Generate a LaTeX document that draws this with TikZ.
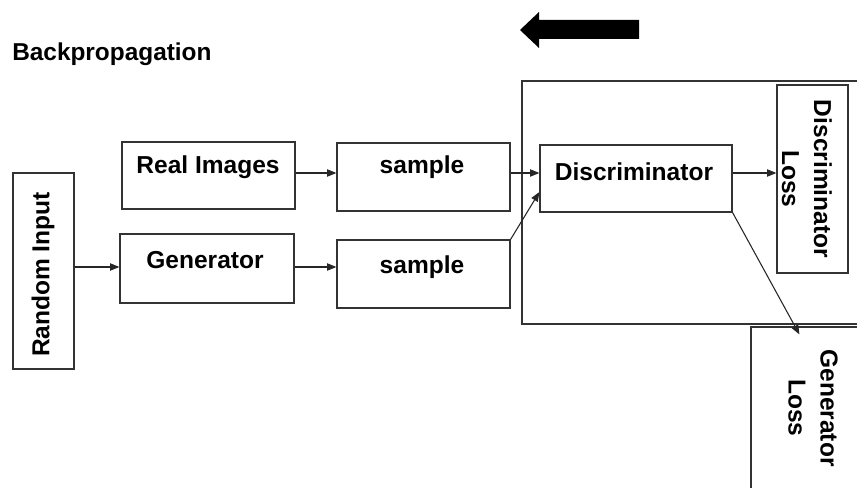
\documentclass[tikz,border=0pt]{standalone}
\usepackage{fontspec}
\setmainfont{Liberation Sans}
\usetikzlibrary{arrows.meta,calc}
\tikzset{
  bx/.style 2 args={draw=black!80,line width=0.9pt,rectangle,inner sep=0pt,
     minimum width=#1*0.75pt,minimum height=#2*0.75pt},
  lbl/.style={inner sep=0pt,font=\fontsize{18.4}{22}\selectfont\bfseries},
  arr/.style={draw=black!85,line width=0.8pt,-{Triangle[length=7pt,width=5.5pt]}}
}
\begin{document}
\begin{tikzpicture}[x=0.75pt,y=-0.75pt]
\useasboundingbox (0,0) rectangle (857,488);
\clip (0,0) rectangle (857,488);
% title and big arrow
\node[lbl,anchor=base west,font=\fontsize{18.3}{22}\selectfont\bfseries] (bp) at (12,61) {Backpropagation};
\fill[black] (520,30) -- (539,12) -- (539,20) -- (639,20) -- (639,39) -- (539,39) -- (539,48) -- cycle;
% frame
\node[bx={348}{243}] (frame) at (696,202.5) {};
% boxes
\node[bx={61}{196}]  (ri)   at (43.5,271) {};
\node[bx={173}{67}]  (real) at (208.5,175.5) {};
\node[bx={174}{69}]  (gen)  at (207,268.5) {};
\node[bx={173}{68}]  (s1)   at (423.5,177) {};
\node[bx={173}{68}]  (s2)   at (423.5,274) {};
\node[bx={192}{67}]  (disc) at (636,178.5) {};
\node[bx={71}{188}]  (dl)   at (812.5,179) {};
\node[bx={119}{173}] (gl)   at (810.5,413.5) {};
% texts
\node[lbl,rotate=90] (tri) at (43,274.5) {Random Input};
\node[lbl] (treal) at (208,167) {Real Images};
\node[lbl] (tgen)  at (205,260) {Generator};
\node[lbl] (ts1)   at (422,167) {sample};
\node[lbl] (ts2)   at (422,267) {sample};
\node[lbl] (tdisc) at (634,172) {Discriminator};
\node[lbl,rotate=-90,align=center] (tdl) at (807,179) {Discriminator\\[2pt]Loss};
\node[lbl,rotate=-90,align=center] (tgl) at (813,408) {Generator\\[2pt]Loss};
% connectors
\draw[arr] ($(ri.east)+(0,-4)$) -- ($(gen.west)+(0,-1.5)$);
\draw[arr] ($(real.east)+(0,-2.5)$) -- ($(s1.west)+(0,-4)$);
\draw[arr] ($(gen.east)+(0,-1.5)$) -- ($(s2.west)+(0,-7)$);
\draw[arr] ($(s1.east)+(0,-4)$) -- ($(disc.west)+(0,-5.5)$);
\draw[arr] (s2.north east) -- ($(disc.west)+(0,13.5)$);
\draw[arr] ($(disc.east)+(0,-5.5)$) -- ($(dl.west)+(0,-6)$);
\draw[arr] (disc.south east) -- ($(gl.north west)+(49,8)$);
\end{tikzpicture}
\end{document}
